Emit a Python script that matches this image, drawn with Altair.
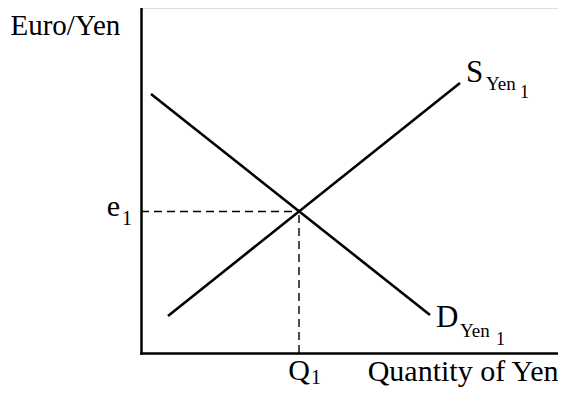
import altair as alt
import pandas as pd

# Values (quantity units, price units)
demand_q = [0.2, 5.78]
demand_p = [5.18, 0.76]
supply_q = [0.54, 6.38]
supply_p = [0.74, 5.4]
eq_q = [3.16]
eq_p = [2.83]
axis_q_max = 8.34
axis_p_max = 6.9

x_title = "Quantity of Yen"
y_title = "Euro/Yen"
supply_label = ["S", "Yen", "1"]
demand_label = ["D", "Yen", "1"]
eq_q_label = ["Q", "1"]
eq_p_label = ["e", "1"]

FONT = "'Liberation Serif', 'Times New Roman', Times, serif"

curves = pd.DataFrame({
    "q": demand_q + supply_q,
    "p": demand_p + supply_p,
    "curve": ["D", "D", "S", "S"],
})
eq = pd.DataFrame({"q": eq_q, "p": eq_p, "zero": [0.0]})
s_end = pd.DataFrame({"q": [supply_q[-1]], "p": [supply_p[-1]]})
d_end = pd.DataFrame({"q": [demand_q[-1]], "p": [demand_p[-1]]})

xs = alt.Scale(domain=[0, axis_q_max], nice=False, zero=False)
ys = alt.Scale(domain=[0, axis_p_max], nice=False, zero=False)

x_axis = alt.Axis(labels=False, ticks=False, grid=False, domainColor="black",
                  domainWidth=2.5, domainCap="square", title=x_title,
                  titleFont=FONT, titleFontSize=30, titleFontWeight="normal",
                  titleColor="black", titleX=417, titleY=27, titleAlign="right",
                  titleBaseline="alphabetic", titleAngle=0)
y_axis = alt.Axis(labels=False, ticks=False, grid=False, domainColor="black",
                  domainWidth=2.5, domainCap="square", title=y_title,
                  titleFont=FONT, titleFontSize=29, titleFontWeight="normal",
                  titleColor="black", titleX=-131, titleY=26, titleAlign="left",
                  titleBaseline="alphabetic", titleAngle=0)

lines = alt.Chart(curves).mark_line(color="black", strokeWidth=2.6).encode(
    x=alt.X("q:Q", scale=xs, axis=x_axis),
    y=alt.Y("p:Q", scale=ys, axis=y_axis),
    detail="curve:N",
)

h_dash = alt.Chart(eq).mark_rule(color="black", strokeWidth=1.4, strokeDash=[8, 5]).encode(
    x=alt.X("zero:Q", scale=xs), x2="q:Q", y=alt.Y("p:Q", scale=ys)
)
v_dash = alt.Chart(eq).mark_rule(color="black", strokeWidth=1.4, strokeDash=[8, 5]).encode(
    x=alt.X("q:Q", scale=xs), y=alt.Y("zero:Q", scale=ys), y2="p:Q"
)


def txt(df, xfield, yfield, text, dx, dy, size, align="left"):
    return alt.Chart(df).mark_text(
        text=text, dx=dx, dy=dy, fontSize=size, font=FONT, color="black",
        align=align, baseline="alphabetic", clip=False,
    ).encode(x=alt.X(xfield, scale=xs), y=alt.Y(yfield, scale=ys))


texts = [
    txt(s_end, "q:Q", "p:Q", supply_label[0], 6, -1, 31),
    txt(s_end, "q:Q", "p:Q", supply_label[1], 26, 7, 19),
    txt(s_end, "q:Q", "p:Q", supply_label[2], 60, 15, 18),
    txt(d_end, "q:Q", "p:Q", demand_label[0], 6, 12, 31),
    txt(d_end, "q:Q", "p:Q", demand_label[1], 30, 22, 19),
    txt(d_end, "q:Q", "p:Q", demand_label[2], 66, 30, 18),
    txt(eq, "q:Q", "zero:Q", eq_q_label[0], 0, 27, 30, align="center"),
    txt(eq, "q:Q", "zero:Q", eq_q_label[1], 12, 31, 20),
    txt(eq, "zero:Q", "p:Q", eq_p_label[0], -21, 4, 30, align="right"),
    txt(eq, "zero:Q", "p:Q", eq_p_label[1], -9, 13, 20, align="right"),
]

chart = alt.layer(lines, h_dash, v_dash, *texts).properties(
    width=417, height=345,
    autosize=alt.AutoSizeParams(type="none"),
    padding={"left": 133, "top": 0, "right": 0, "bottom": 34},
).configure_view(stroke=None).configure(background="white")

chart.save("out.html", embed_options={"renderer": "svg", "actions": False})
